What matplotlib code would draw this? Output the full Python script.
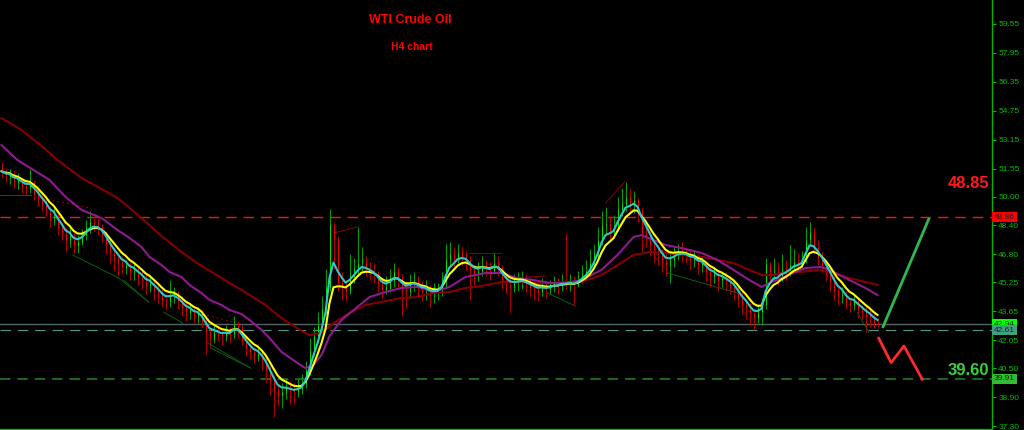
import numpy as np
import pandas as pd
import matplotlib
matplotlib.use("Agg")
import matplotlib.pyplot as plt

plt.rcParams["font.family"] = ["Liberation Sans", "DejaVu Sans"]
plt.rcParams["lines.scale_dashes"] = False

# WTI H4 bars, oldest first
first_open = 51.6
closes = [
    51.4, 51.1, 51.2, 50.8, 50.9, 50.6, 50.5, 50.7, 50.2, 49.9,
    49.5, 49.3, 48.8, 48.9, 48.3, 48.0, 47.6, 47.8, 47.3, 47.5,
    47.9, 48.3, 48.6, 48.5, 48.3, 47.9, 47.4, 46.9, 46.6, 46.4,
    46.1, 46.2, 45.8, 45.9, 45.6, 45.4, 45.1, 45.2, 44.8, 44.6,
    44.3, 44.2, 44.5, 44.6, 44.2, 43.9, 43.6, 43.7, 43.4, 43.5,
    43.1, 42.5, 42.2, 42.5, 42.4, 42.3, 42.5, 42.4, 42.9, 42.7,
    42.0, 41.6, 41.4, 41.2, 41.3, 40.9, 40.4, 39.8, 39.3, 39.0,
    39.2, 39.4, 39.3, 39.2, 39.4, 39.6, 40.4, 41.5, 42.3, 42.9,
    43.8, 45.0, 48.4, 47.6, 45.2, 45.0, 44.8, 45.6, 46.0, 46.3,
    46.4, 46.0, 45.8, 45.6, 45.2, 44.9, 45.0, 45.4, 45.8, 45.5,
    44.9, 44.8, 45.2, 45.3, 45.0, 44.8, 44.9, 44.6, 44.7, 44.8,
    45.3, 46.5, 46.8, 46.6, 46.9, 46.7, 46.5, 46.0, 45.7, 45.9,
    46.2, 46.0, 45.9, 46.3, 46.1, 45.4, 45.1, 45.0, 45.2, 45.3,
    45.4, 45.2, 45.0, 44.9, 44.8, 45.0, 44.9, 45.0, 45.2, 45.1,
    45.3, 45.2, 45.3, 45.1, 45.4, 45.7, 45.9, 46.3, 46.9, 47.6,
    48.4, 48.5, 48.1, 48.3, 49.3, 49.6, 50.0, 49.6, 49.8, 49.2,
    48.0, 47.8, 47.3, 46.9, 46.8, 46.4, 46.2, 46.5, 46.8, 47.0,
    46.9, 46.8, 46.5, 46.6, 46.2, 46.3, 45.9, 45.6, 45.7, 45.4,
    45.5, 45.3, 45.1, 44.9, 44.4, 44.0, 43.9, 43.5, 43.3, 43.6,
    44.0, 46.2, 45.8, 45.9, 45.6, 46.0, 45.9, 46.2, 46.4, 46.3,
    46.5, 47.6, 48.0, 47.2, 46.6, 46.2, 45.7, 45.3, 44.8, 44.5,
    44.6, 44.1, 44.0, 44.2, 43.8, 43.6, 43.4, 43.3, 43.0, 42.94,
]
highs = [
    51.9, 51.6, 51.5, 51.4, 51.3, 51.0, 50.8, 51.5, 50.9, 50.4,
    50.1, 49.8, 49.5, 49.4, 49.1, 48.6, 48.3, 48.4, 48.0, 47.9,
    48.2, 48.7, 49.2, 48.9, 48.8, 48.5, 48.1, 47.6, 47.2, 46.9,
    46.7, 46.5, 46.4, 46.3, 46.1, 45.9, 45.7, 45.6, 45.4, 45.1,
    44.9, 44.6, 45.4, 45.0, 44.8, 44.5, 44.2, 44.1, 43.9, 43.9,
    43.7, 43.3, 42.8, 42.9, 42.9, 42.7, 42.9, 42.8, 43.4, 43.1,
    42.9, 42.3, 41.9, 41.7, 41.8, 41.5, 41.1, 40.6, 40.1, 39.6,
    39.7, 39.9, 39.8, 39.7, 39.9, 40.2, 40.9, 42.2, 42.8, 43.6,
    44.5, 46.0, 49.3, 48.6, 47.8, 45.8, 45.4, 46.8, 46.6, 48.3,
    47.2, 46.7, 46.4, 46.3, 45.9, 45.5, 45.6, 46.0, 46.3, 46.1,
    45.7, 45.3, 45.7, 45.8, 45.6, 45.3, 45.4, 45.1, 45.2, 45.2,
    45.8, 47.4, 47.5, 47.2, 47.4, 47.2, 47.0, 46.7, 46.2, 46.4,
    46.7, 46.5, 46.4, 46.9, 46.7, 46.2, 45.7, 45.5, 45.7, 45.8,
    45.9, 45.7, 45.5, 45.3, 45.2, 45.5, 45.3, 45.4, 45.6, 45.5,
    45.7, 48.0, 45.7, 45.6, 45.9, 46.2, 46.5, 47.1, 47.4, 48.3,
    49.2, 49.4, 48.9, 49.0, 50.0, 50.5, 50.8, 50.4, 50.3, 49.9,
    49.4, 48.4, 48.1, 47.6, 47.3, 47.1, 46.8, 46.9, 47.2, 47.4,
    47.5, 47.2, 47.1, 47.0, 46.8, 46.7, 46.4, 46.1, 46.1, 45.9,
    45.9, 45.8, 45.6, 45.4, 45.1, 44.7, 44.3, 44.1, 43.8, 44.0,
    44.4, 46.6, 46.4, 46.6, 46.4, 46.8, 46.5, 47.3, 47.1, 46.9,
    47.0, 48.3, 48.6, 48.3, 47.6, 47.0, 46.5, 46.0, 45.6, 45.1,
    45.0, 44.8, 44.4, 44.6, 44.4, 44.0, 43.9, 43.7, 43.5, 43.3,
]
lows = [
    51.1, 50.8, 50.7, 50.5, 50.4, 50.2, 50.1, 50.2, 49.8, 49.5,
    49.2, 48.9, 48.3, 48.4, 47.9, 47.6, 47.0, 47.2, 46.9, 46.9,
    47.3, 47.6, 48.0, 48.1, 47.9, 47.5, 46.8, 46.3, 45.9, 45.6,
    45.7, 45.7, 45.4, 45.4, 45.1, 44.9, 44.6, 44.7, 44.3, 44.1,
    43.9, 43.7, 43.9, 44.1, 43.8, 43.4, 43.1, 43.2, 43.0, 43.0,
    42.8, 41.3, 41.6, 41.9, 42.0, 41.8, 42.0, 41.9, 42.2, 42.2,
    41.8, 41.2, 41.0, 40.8, 40.9, 40.4, 39.7, 39.0, 37.8, 38.4,
    38.3, 38.8, 38.5, 38.5, 38.9, 39.1, 39.4, 40.1, 41.2, 41.9,
    42.6, 43.5, 44.8, 46.0, 44.8, 44.3, 44.2, 44.6, 45.2, 45.6,
    45.9, 45.6, 45.4, 45.2, 44.7, 44.4, 44.6, 44.7, 45.0, 45.0,
    43.4, 43.8, 44.4, 44.8, 44.5, 44.2, 44.3, 43.9, 44.1, 44.3,
    44.5, 45.0, 46.1, 46.1, 46.3, 46.2, 45.9, 44.3, 45.1, 45.3,
    45.6, 45.6, 45.4, 45.7, 45.6, 44.9, 44.6, 43.6, 44.7, 44.8,
    44.9, 44.7, 44.5, 44.3, 44.2, 44.5, 44.4, 44.6, 44.7, 44.6,
    44.8, 44.9, 44.8, 44.0, 45.0, 45.2, 45.4, 45.6, 46.2, 46.6,
    47.3, 47.9, 47.6, 47.8, 48.1, 48.9, 49.2, 49.1, 49.1, 48.6,
    47.0, 47.2, 46.7, 46.3, 46.2, 45.8, 45.6, 45.2, 46.1, 46.5,
    46.4, 46.3, 46.0, 46.1, 45.7, 45.8, 45.3, 45.0, 45.2, 44.8,
    45.0, 44.8, 44.6, 44.3, 43.9, 43.5, 43.2, 42.9, 42.6, 43.0,
    42.9, 43.8, 45.3, 45.4, 45.1, 45.3, 45.4, 45.6, 45.9, 45.8,
    46.0, 46.3, 47.3, 46.9, 46.2, 45.8, 45.3, 44.8, 44.3, 44.0,
    44.1, 43.8, 43.6, 43.7, 43.3, 43.2, 42.5, 42.8, 42.7, 42.7,
]

# slow moving averages (bar index, price)
purple_idx = [0, 4, 8, 12, 16, 20, 25, 29, 32, 35, 37, 40, 42, 45, 47, 50, 52, 55, 57, 60,
              62, 65, 67, 70, 74, 76, 78, 80, 82, 85, 92, 96, 100, 104, 108, 112, 116, 121, 125, 129,
              133, 137, 141, 145, 150, 154, 158, 160, 166, 170, 175, 179, 183, 187, 190, 192, 195, 198, 201, 205,
              208, 212, 216, 219]
purple_val = [52.85, 52.02, 51.47, 50.92, 49.98, 49.26, 48.81, 48.15, 47.71, 47.21,
              46.66, 46.21, 45.83, 45.55, 45.11, 44.66, 44.28, 44.00, 43.72, 43.50,
              43.17, 42.62, 42.17, 41.40, 40.79, 40.51, 40.68, 41.23, 42.28, 43.17,
              44.44, 44.72, 44.94, 45.00, 44.72, 45.00, 45.55, 45.77, 45.77, 45.49,
              45.38, 45.22, 45.22, 45.38, 45.94, 46.77, 47.76, 47.87, 47.32, 47.15,
              46.88, 46.49, 45.94, 45.38, 45.00, 45.22, 45.49, 45.77, 46.05, 46.10,
              45.83, 45.38, 44.94, 44.55]
slow_idx = [0, 5, 10, 14, 20, 25, 29, 32, 35, 40, 45, 50, 55, 60, 66, 70, 75, 77, 80, 83,
            87, 91, 95, 100, 104, 108, 112, 116, 120, 125, 129, 133, 137, 141, 145, 150, 154, 158, 162, 166,
            170, 175, 179, 183, 187, 190, 193, 196, 200, 204, 208, 212, 216, 219]
slow_val = [54.35, 53.68, 52.80, 52.02, 51.03, 50.42, 49.92, 49.37, 48.81, 47.82,
            46.93, 46.16, 45.49, 44.83, 44.00, 43.28, 42.56, 42.34, 42.45, 43.00,
            43.56, 44.00, 44.17, 44.39, 44.44, 44.66, 44.72, 44.94, 45.05, 45.27,
            45.27, 45.22, 45.22, 45.27, 45.27, 45.66, 46.21, 46.77, 46.93, 46.88,
            46.77, 46.66, 46.49, 46.32, 45.94, 45.66, 45.66, 45.83, 45.83, 45.94,
            45.77, 45.49, 45.27, 45.11]

# thin zigzag / trend lines (x0, p0, x1, p1)
green_segments = [(-0.3, 50.09, 7.3, 50.09), (17.8, 46.77, 29.3, 45.49), (29.3, 45.49, 36.8, 44.16),
                  (30.5, 45.38, 36.8, 44.16), (40.5, 43.61, 45.3, 43.00), (51.5, 41.90, 62.3, 40.51),
                  (52.3, 41.62, 62.3, 40.51), (136.5, 44.66, 143.5, 43.94), (166.5, 45.77, 184.0, 44.66),
                  (214.0, 43.56, 216.8, 42.50)]
red_dotted = [(8.0, 49.98, 22.3, 49.37), (49.0, 43.56, 58.0, 43.06)]
red_segments = [(83.0, 47.98, 89.0, 48.32), (116.8, 46.88, 124.8, 46.88),
                (127.3, 45.49, 136.0, 45.60), (151.0, 49.64, 155.8, 50.81)]

resistance = 48.86
bid = 42.94
prev_low = 42.61
support = 39.91
target_up = 48.85
target_down = 39.60

proj_up_x = [220.4, 231.8]
proj_up_y = [42.80, 48.75]
proj_dn_x = [219.3, 222.4, 225.6, 230.2]
proj_dn_y = [42.16, 40.81, 41.73, 39.89]

y_ticks = [59.55, 57.95, 56.35, 54.75, 53.15, 51.55, 50.00, 48.40,
           46.80, 45.25, 43.65, 42.05, 40.50, 38.90, 37.30]

closes = np.array(closes)
opens = np.concatenate([[first_open], closes[:-1]])
x = np.arange(len(closes))
up = closes >= opens

fast = pd.Series(closes).ewm(span=4, adjust=False).mean()
mid = pd.Series(closes).ewm(span=7, adjust=False).mean()

fig = plt.figure(figsize=(10.24, 4.30), dpi=100, facecolor="black")
ax = fig.add_axes([0, 1 / 430, 992 / 1024, 429 / 430])
ax.set_facecolor("black")

px = 0.72
ax.vlines(x, lows, highs, colors=np.where(up, "#00a000", "#b00000"), linewidth=px, zorder=2)
ax.vlines(x, opens, closes, colors=np.where(up, "#00e000", "#f00000"), linewidth=px, zorder=3)

for x0, p0, x1, p1 in green_segments:
    ax.plot([x0, x1], [p0, p1], color="#0d5a0d", linewidth=px, zorder=2)
for x0, p0, x1, p1 in red_dotted:
    ax.plot([x0, x1], [p0, p1], color="#9a0000", linewidth=px, linestyle=(0, (1.5, 2)), zorder=2)
for x0, p0, x1, p1 in red_segments:
    ax.plot([x0, x1], [p0, p1], color="#8a0000", linewidth=px, zorder=2)

ax.plot(slow_idx, slow_val, color="#840000", linewidth=1.5, zorder=4)
ax.plot(purple_idx, purple_val, color="#8e1a8e", linewidth=1.5, zorder=4)
ax.plot(x, mid, color="#ffff00", linewidth=1.5, zorder=5)
ax.plot(x, fast, color="#2cc8cc", linewidth=1.5, zorder=6)

ax.axhline(resistance, color="#ff1010", linewidth=1.0, linestyle=(0, (7.5, 5)), zorder=1)
ax.axhline(bid, color="#56626a", linewidth=1.0, zorder=1)
ax.axhline(prev_low, color="#4f9a86", linewidth=0.8, linestyle=(0, (7.5, 5)), zorder=1)
ax.axhline(support, color="#1f7a2a", linewidth=1.2, linestyle=(0, (7.5, 5)), zorder=1)

ax.plot(proj_up_x, proj_up_y, color="#2eb84e", linewidth=2.0, zorder=6)
ax.plot(proj_dn_x, proj_dn_y, color="#ff2a2a", linewidth=2.0, zorder=6)

# target labels sit above their level lines
ax.text(247.0, target_up + 1.85, f"{target_up:.2f}", color="#ff1a1a", fontsize=12,
        fontweight="bold", ha="right", va="center", zorder=7)
ax.text(247.0, target_down + 0.76, f"{target_down:.2f}", color="#3ccf3c", fontsize=12,
        fontweight="bold", ha="right", va="center", zorder=7)

ax.set_xlim(-0.375, 247.625)
ax.set_ylim(60.878 - 429 * 0.05534, 60.878)

ax.yaxis.tick_right()
ax.set_yticks(y_ticks)
ax.set_yticklabels([f"{t:.2f}" for t in y_ticks])
ax.tick_params(axis="y", colors="#00c000", labelsize=6, length=3, width=0.7, pad=1.5)
ax.set_xticks([])
for side in ["top", "left"]:
    ax.spines[side].set_visible(False)
ax.spines["right"].set_color("#00b400")
ax.spines["bottom"].set_color("#00b400")
ax.spines["right"].set_linewidth(1.0)
ax.spines["bottom"].set_linewidth(1.0)

for price, fc in [(resistance, "#ff0000"), (support, "#33bb33"), (bid, "#00ff00"), (prev_low, "#3f9f80")]:
    ax.annotate(f"{price:.2f}", xy=(1, price), xycoords=("axes fraction", "data"),
                xytext=(1.5, 0), textcoords="offset points", ha="left", va="center",
                fontsize=6, color="#202020", annotation_clip=False,
                bbox=dict(boxstyle="square,pad=0.2", fc=fc, ec="none"))

fig.text(410 / 1024, 1 - 20 / 430, "WTI Crude Oil", color="#ff0000", fontsize=9,
         fontweight="bold", ha="center", va="center")
fig.text(412 / 1024, 1 - 47 / 430, "H4 chart", color="#ff0000", fontsize=7.5,
         fontweight="bold", ha="center", va="center")

fig.savefig("out.png", dpi=100, facecolor="black")
